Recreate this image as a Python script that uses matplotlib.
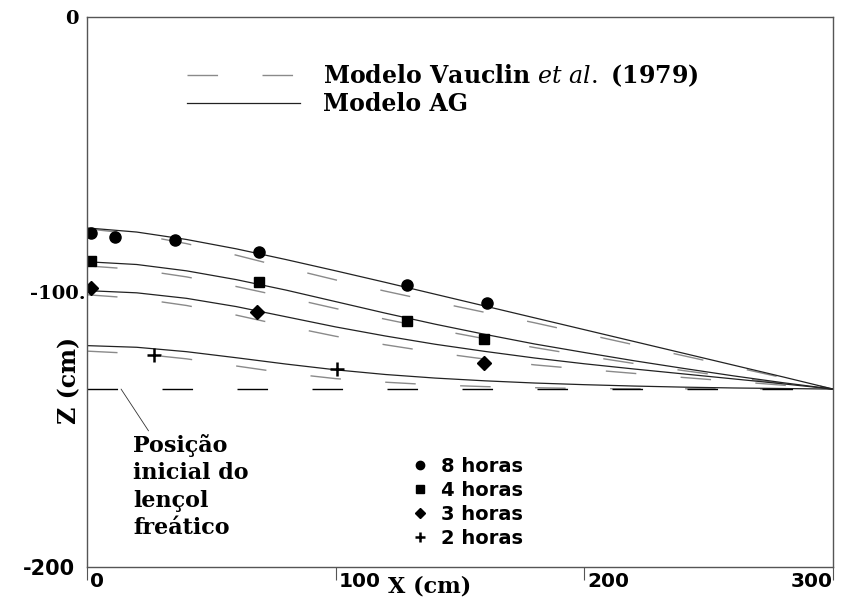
import matplotlib
matplotlib.use("Agg")
import matplotlib.pyplot as plt
from matplotlib.lines import Line2D
import matplotlib.transforms as mtransforms

plt.rcParams['mathtext.fontset'] = 'dejavuserif'

# x positions along the profile (cm)
x_curve = [0, 20, 40, 60, 80, 100, 120, 140, 160, 180, 200, 220, 240, 260, 280, 300]

# Modelo AG (solid)
ag_8h = [-76.7, -78.2, -80.9, -84.3, -88.2, -92.3, -96.5, -100.8, -105.1, -109.4,
         -113.7, -118.0, -122.3, -126.6, -130.9, -135.3]
ag_4h = [-89.0, -90.0, -92.3, -95.5, -99.3, -103.5, -107.7, -111.7, -115.4, -118.9,
         -122.0, -125.0, -127.8, -130.5, -133.0, -135.3]
ag_3h = [-99.5, -100.3, -102.3, -105.3, -109.0, -112.7, -116.0, -119.0, -121.6, -124.0,
         -126.1, -128.0, -129.8, -131.6, -133.4, -135.3]
ag_2h = [-119.5, -120.1, -121.7, -123.9, -126.2, -128.3, -130.0, -131.3, -132.3, -133.1,
         -133.7, -134.2, -134.6, -134.9, -135.1, -135.3]

# Modelo Vauclin et al. (1979) (dashed)
va_8h = [-77.0, -79.0, -82.4, -86.6, -91.2, -95.6, -99.7, -103.6, -107.4, -111.2,
         -115.2, -119.2, -123.2, -127.2, -131.2, -135.3]
va_4h = [-90.5, -91.8, -94.5, -98.0, -101.9, -106.0, -109.9, -113.6, -117.0, -120.2,
         -123.2, -126.0, -128.6, -131.0, -133.3, -135.3]
va_3h = [-101.0, -102.3, -104.9, -108.4, -112.4, -116.1, -119.2, -122.0, -124.4, -126.5,
         -128.1, -129.6, -131.1, -132.5, -133.9, -135.3]
va_2h = [-121.5, -122.4, -124.3, -126.9, -129.5, -131.5, -132.8, -133.8, -134.4, -134.8,
         -135.1, -135.2, -135.2, -135.3, -135.3, -135.3]

# initial water table
x_table = [0, 300]
z_table = [-135.3, -135.3]

# observed points
obs_8h_x = [1.5, 11.3, 35.4, 69.2, 128.7, 160.8]
obs_8h_z = [-78.5, -80.0, -81.1, -85.5, -97.5, -104.0]
obs_4h_x = [1.5, 69.2, 128.7, 159.6]
obs_4h_z = [-88.7, -96.4, -110.5, -117.1]
obs_3h_x = [1.5, 68.4, 159.6]
obs_3h_z = [-98.5, -107.3, -125.8]
obs_2h_x = [27.0, 100.5]
obs_2h_z = [-122.9, -128.0]

xticks = [0, 100, 200, 300]
xtick_labels = ['0', '100', '200', '300']
yticks = [0, -100, -200]
ytick_labels = ['0', '-100.', '-200']

fig = plt.figure(figsize=(8.45, 5.99), dpi=100)
ax = fig.add_axes([87 / 845, 1 - 567 / 599, 746 / 845, 550 / 599])

dash = (22, 32)
for z in [va_8h, va_4h, va_3h, va_2h]:
    ax.plot(x_curve, z, color='#8a8a8a', lw=1.0, dashes=dash)
for z in [ag_8h, ag_4h, ag_3h, ag_2h]:
    ax.plot(x_curve, z, color='#222222', lw=0.9)
ax.plot(x_table, z_table, color='black', lw=1.0, dashes=dash)

h8, = ax.plot(obs_8h_x, obs_8h_z, 'o', color='black', ms=8, ls='none')
h4, = ax.plot(obs_4h_x, obs_4h_z, 's', color='black', ms=7.5, ls='none')
h3, = ax.plot(obs_3h_x, obs_3h_z, 'D', color='black', ms=7.2, ls='none')
h2, = ax.plot(obs_2h_x, obs_2h_z, '+', color='black', ms=10, mew=1.8, ls='none')

ax.set_xlim(0, 300)
ax.set_ylim(-200, 0)

for s in ax.spines.values():
    s.set_color('#555555')
    s.set_linewidth(1.0)

# ticks
ax.set_xticks(xticks, xtick_labels)
ax.set_yticks(yticks, ytick_labels)
ax.tick_params(axis='x', direction='out', length=9, width=0.8, color='#555555', pad=-5.5)
ax.tick_params(axis='y', length=0, pad=1)
for i, lab in enumerate(ax.get_xticklabels()):
    lab.set_fontfamily('DejaVu Sans')
    lab.set_fontweight('bold')
    lab.set_fontsize(14.5)
    if i < 3:
        lab.set_ha('left')
        lab.set_transform(lab.get_transform() + mtransforms.ScaledTranslation(2 / 72, 0, fig.dpi_scale_trans))
    else:
        lab.set_ha('right')
ylabs = ax.get_yticklabels()
ylabs[0].set_fontproperties(dict(family='DejaVu Serif', weight='bold', size=14))
ylabs[0].set_transform(ylabs[0].get_transform() + mtransforms.ScaledTranslation(-5 / 72, 0, fig.dpi_scale_trans))
ylabs[1].set_fontproperties(dict(family='DejaVu Serif', weight='bold', size=14))
ylabs[2].set_fontproperties(dict(family='DejaVu Sans', weight='bold', size=15))
ylabs[2].set_transform(ylabs[2].get_transform() + mtransforms.ScaledTranslation(-8 / 72, 0, fig.dpi_scale_trans))

ax.set_xlabel('X (cm)', family='DejaVu Serif', weight='bold', fontsize=16, ha='left')
ax.xaxis.set_label_coords(0.403, -0.015)
ax.set_ylabel('Z (cm)', family='DejaVu Serif', weight='bold', fontsize=17)
ax.yaxis.set_label_coords(-0.008, 0.34)

# model legend
model_handles = [Line2D([], [], color='#8a8a8a', lw=1.0, dashes=dash),
                 Line2D([], [], color='#222222', lw=0.9)]
leg1 = ax.legend(model_handles, [r'Modelo Vauclin $\it{et\ al.}$ (1979)', 'Modelo AG'],
                 loc='upper left', bbox_to_anchor=(0.134, 0.918), frameon=False,
                 prop=dict(family='DejaVu Serif', weight='bold', size=17),
                 handlelength=4.8, handletextpad=0.95, labelspacing=0.15,
                 borderpad=0, borderaxespad=0)
ax.add_artist(leg1)

# time legend
ax.legend([h8, h4, h3, h2], ['8 horas', '4 horas', '3 horas', '2 horas'],
          loc='upper left', bbox_to_anchor=(0.433, 0.2), frameon=False,
          prop=dict(family='DejaVu Sans', weight='bold', size=14),
          handlelength=1.0, handletextpad=0.6, labelspacing=0.25,
          borderpad=0, borderaxespad=0, markerscale=0.75)

ax.annotate('Posição\ninicial do\nlençol\nfreático', xy=(13.7, -135.3), xytext=(18.5, -151.5),
            ha='left', va='top', family='DejaVu Serif', weight='bold', fontsize=16,
            linespacing=1.32,
            arrowprops=dict(arrowstyle='-', lw=0.6, color='#333333', shrinkA=0, shrinkB=0,
                            relpos=(0.15, 1.0)))

fig.savefig('out.png', dpi=100)
